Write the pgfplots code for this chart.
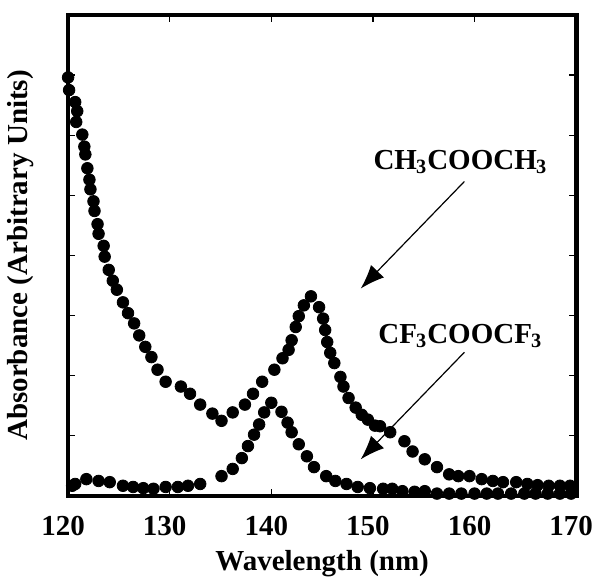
\documentclass[border=0pt]{standalone}
\usepackage{fontspec}
\setmainfont{Liberation Serif}
\usepackage{pgfplots}
\pgfplotsset{compat=1.18}
\usetikzlibrary{arrows.meta}

\newcommand{\sub}[1]{\kern-0.03em\textsubscript{#1}}

% absorbance spectra
\pgfplotstableread{
x y
120.0 6.96
120.1 6.75
120.7 6.55
120.9 6.40
120.8 6.22
121.4 6.01
121.6 5.81
121.7 5.68
121.9 5.45
122.1 5.26
122.2 5.10
122.5 4.90
122.6 4.74
122.9 4.52
123.0 4.36
123.5 4.16
123.6 3.98
124.0 3.76
124.4 3.58
124.8 3.43
125.4 3.22
125.9 3.04
126.5 2.87
127.0 2.67
127.6 2.48
128.2 2.31
128.8 2.10
129.6 1.90
131.1 1.82
132.0 1.70
133.0 1.52
134.2 1.37
135.1 1.25
136.2 1.39
137.4 1.52
138.2 1.70
139.1 1.90
140.3 2.10
141.1 2.29
141.7 2.43
142.0 2.59
142.4 2.81
142.7 2.99
143.2 3.17
143.9 3.32
144.7 3.14
145.1 2.95
145.3 2.76
145.5 2.56
145.8 2.38
146.2 2.21
146.8 1.98
147.1 1.82
147.6 1.63
148.3 1.47
148.9 1.35
149.5 1.27
150.2 1.17
150.7 1.16
151.7 1.06
153.1 0.91
153.9 0.74
155.1 0.61
156.3 0.48
157.5 0.36
158.4 0.33
159.5 0.33
160.7 0.28
161.8 0.25
162.8 0.23
164.1 0.23
165.2 0.20
166.2 0.18
167.3 0.17
168.4 0.17
169.4 0.17
}\methyl

\pgfplotstableread{
x y
120.4 0.17
120.7 0.20
121.8 0.28
123.0 0.25
124.1 0.23
125.4 0.17
126.4 0.15
127.4 0.13
128.4 0.12
129.6 0.15
130.8 0.15
131.8 0.17
133.0 0.20
135.1 0.33
136.2 0.45
137.1 0.63
137.7 0.83
138.3 1.02
138.8 1.19
139.3 1.39
140.0 1.55
141.0 1.40
141.6 1.22
142.0 1.06
142.7 0.86
143.5 0.66
144.2 0.48
145.4 0.33
146.3 0.25
147.4 0.20
148.5 0.15
149.7 0.13
151.0 0.12
151.9 0.12
152.9 0.08
154.1 0.07
155.1 0.08
156.3 0.04
157.5 0.04
158.7 0.04
160.0 0.04
161.2 0.04
162.3 0.04
163.6 0.04
164.9 0.04
166.0 0.04
167.2 0.04
168.4 0.04
169.5 0.04
}\fluoro

\begin{document}
\begin{tikzpicture}
\begin{axis}[
    scale only axis,
    width=254pt, height=240.5pt,
    xmin=120, xmax=170, ymin=0, ymax=8,
    xtick={120,130,...,170},
    ytick={1,...,7}, yticklabels={},
    tick align=inside,
    major tick length=3.5pt,
    tick style={black, line width=0.6pt},
    axis line style={line width=2.4pt},
    clip=false,
    font=\fontsize{14.5}{17}\selectfont\bfseries,
    /pgf/number format/assume math mode=true,
    xticklabel style={font=\fontsize{14.5}{17}\selectfont\bfseries, inner sep=0pt, yshift=-10pt, xshift=-2.5pt},
    xlabel={Wavelength (nm)},
    ylabel={Absorbance (Arbitrary Units)},
    every axis x label/.style={at={(rel axis cs:0.5,0)}, inner sep=0pt, anchor=center, yshift=-34pt},
    every axis y label/.style={at={(rel axis cs:0,0.5)}, inner sep=0pt, xshift=-24pt, anchor=center, rotate=90},
]
    \addplot[only marks, mark=*, mark size=2.9pt, black] table {\methyl};
    \addplot[only marks, mark=*, mark size=2.9pt, black] table {\fluoro};

    \node[anchor=base] at (axis cs:158.6,5.43) {CH\sub{3}COOCH\sub{3}};
    \node[anchor=base] at (axis cs:158.6,2.54) {CF\sub{3}COOCF\sub{3}};
    \draw[-{Latex[length=12pt,width=9pt]}, line width=0.6pt]
        (axis cs:159.0,5.23) -- (axis cs:148.8,3.45);
    \draw[-{Latex[length=12pt,width=9pt]}, line width=0.6pt]
        (axis cs:159.0,2.39) -- (axis cs:148.8,0.61);

    % page size like the reference
    \path (rel axis cs:-0.134,1.031) (rel axis cs:1.041,-0.175);
\end{axis}
\end{tikzpicture}
\end{document}
